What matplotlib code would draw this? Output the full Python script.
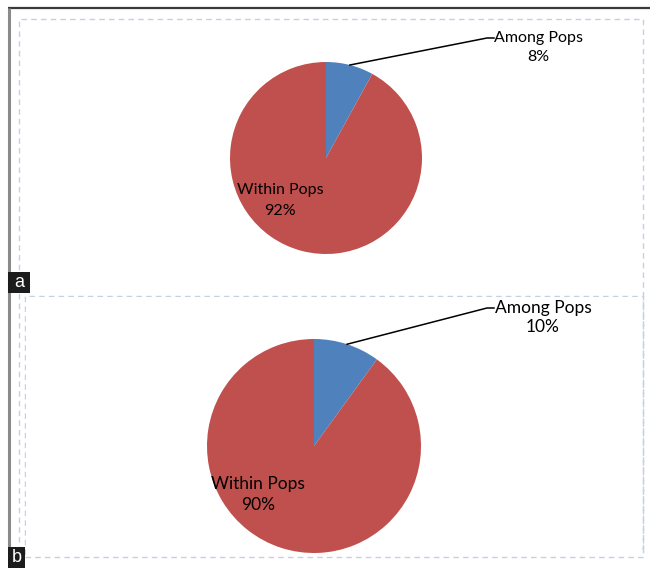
import matplotlib.pyplot as plt
import numpy as np
from matplotlib.patches import Rectangle

plt.rcParams['font.family'] = ['Lato', 'DejaVu Sans']

# AMOVA variance partition for the two panels
panels = ['a', 'b']
among = [8, 10]
within = [92, 90]
slice_labels = ['Among Pops', 'Within Pops']
colors = ['#4F81BD', '#C0504D']

W, H = 650, 568
fig = plt.figure(figsize=(W / 100, H / 100), dpi=100)
ax = fig.add_axes([0, 0, 1, 1])


def py(y):
    # pixel row -> data y (origin at bottom)
    return H - y


# panel layout in pixels: pie centre, radius, label positions, font size
layout = {
    'a': dict(c=(326, 158), r=96, out=(538, 38), inner=(280, 190), fs=11.5,
              box=(19, 19, 643, 548), tag=(8, 272, 30, 293)),
    'b': dict(c=(314, 446), r=107, out=(543, 308), inner=(258, 484), fs=12.5,
              box=(25, 296, 643, 557), tag=(8, 547, 25, 568)),
}

# outer frame
ax.plot([8, W], [py(8), py(8)], color='#3a3a3a', lw=1.6, solid_capstyle='butt')
ax.plot([8.5, 8.5], [py(8), py(548)], color='#8a8a8a', lw=2.2, solid_capstyle='butt')

for i, p in enumerate(panels):
    L = layout[p]
    x0, y0, x1, y1 = L['box']
    ax.add_patch(Rectangle((x0, py(y1)), x1 - x0, y1 - y0, fill=False,
                           ec='#c3d1e4', lw=1.0, ls=(0, (4, 3)), zorder=1))
    if p == 'b':
        # cover panel a's box behind panel b
        ax.add_patch(Rectangle((x0 + 1, py(y1) + 1), x1 - x0 - 2, y1 - y0 - 2,
                               fc='white', ec='none', zorder=1.5))

    vals = [among[i], within[i]]
    cx, cy = L['c']
    ax.pie(vals, colors=colors, startangle=90, counterclock=False,
           center=(cx, py(cy)), radius=L['r'],
           wedgeprops=dict(linewidth=0, zorder=2))

    # leader line from middle of the small slice to its label
    mid = np.deg2rad(90 - 360 * vals[0] / sum(vals) / 2)
    ax0 = cx + L['r'] * np.cos(mid)
    ay0 = py(cy) + L['r'] * np.sin(mid)
    tx, ty = L['out']
    ax.plot([ax0, 487, 494], [ay0, py(ty), py(ty)], color='black', lw=1.1, zorder=3)
    ax.text(tx, py(ty), slice_labels[0], ha='center', va='center', fontsize=L['fs'])
    ax.text(tx, py(ty + 19), f'{vals[0]}%', ha='center', va='center', fontsize=L['fs'])

    ix, iy = L['inner']
    ax.text(ix, py(iy), slice_labels[1], ha='center', va='center',
            fontsize=L['fs'], zorder=4)
    ax.text(ix, py(iy + 21), f'{vals[1]}%', ha='center', va='center',
            fontsize=L['fs'], zorder=4)

    # panel tag
    tx0, ty0, tx1, ty1 = L['tag']
    ax.add_patch(Rectangle((tx0, py(ty1)), tx1 - tx0, ty1 - ty0,
                           fc='#1c1c1c', ec='none', zorder=5))
    ax.text((tx0 + tx1) / 2, py((ty0 + ty1) / 2), p, color='white',
            ha='center', va='center', fontsize=13, zorder=6,
            family=['Liberation Sans', 'DejaVu Sans'])

ax.set_xlim(0, W)
ax.set_ylim(0, H)
ax.set_aspect('auto')
ax.axis('off')

fig.savefig('out.png', dpi=100)
